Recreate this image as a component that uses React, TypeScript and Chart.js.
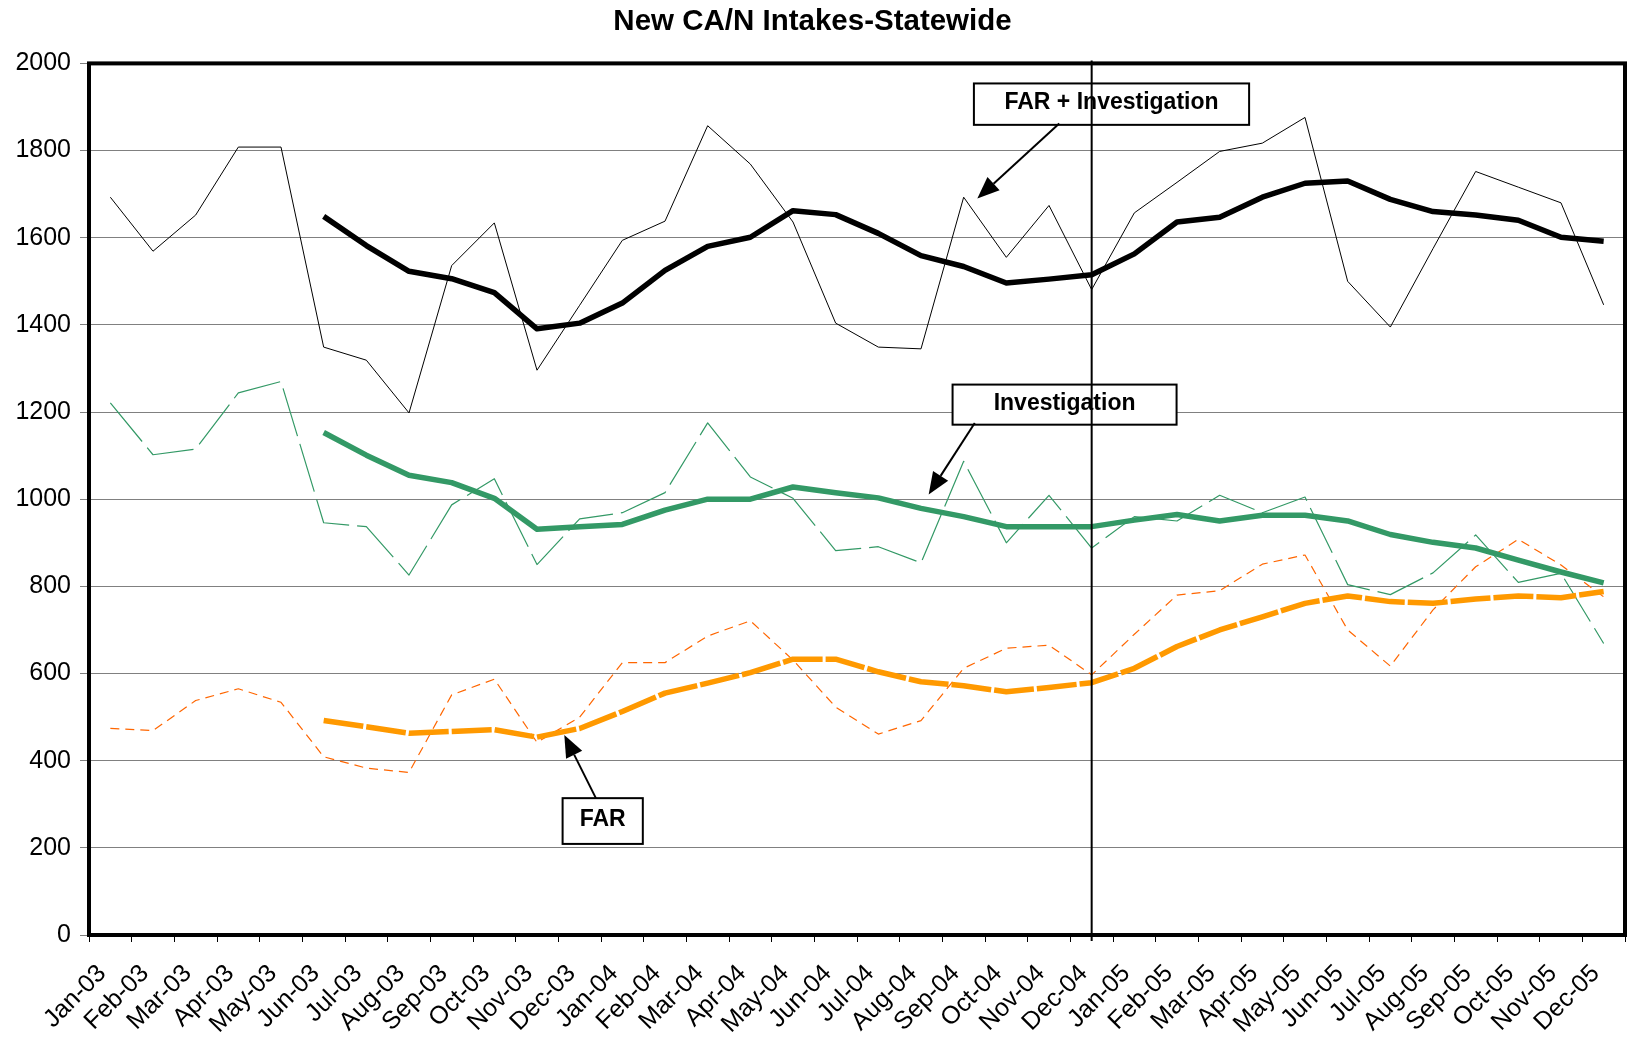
import React, { useEffect, useRef } from 'react';
import { Chart, registerables } from 'chart.js';

Chart.register(...registerables);

const months = [
  'Jan-03', 'Feb-03', 'Mar-03', 'Apr-03', 'May-03', 'Jun-03', 'Jul-03', 'Aug-03', 'Sep-03', 'Oct-03', 'Nov-03', 'Dec-03',
  'Jan-04', 'Feb-04', 'Mar-04', 'Apr-04', 'May-04', 'Jun-04', 'Jul-04', 'Aug-04', 'Sep-04', 'Oct-04', 'Nov-04', 'Dec-04',
  'Jan-05', 'Feb-05', 'Mar-05', 'Apr-05', 'May-05', 'Jun-05', 'Jul-05', 'Aug-05', 'Sep-05', 'Oct-05', 'Nov-05', 'Dec-05',
];

// Monthly totals (thin lines)
const farInvMonthly = [1693, 1569, 1652, 1808, 1808, 1349, 1319, 1198, 1536, 1634, 1296, 1445, 1594, 1638, 1857, 1769, 1636, 1404, 1349, 1345, 1693, 1555, 1674, 1481, 1657, 1727, 1798, 1817, 1876, 1500, 1395, 1575, 1752, 1716, 1680, 1446];
const invMonthly = [1221, 1102, 1115, 1244, 1270, 946, 937, 826, 987, 1047, 850, 955, 969, 1015, 1175, 1051, 1002, 882, 891, 854, 1087, 900, 1009, 888, 960, 950, 1009, 969, 1005, 804, 781, 831, 918, 809, 830, 669];
const farMonthly = [474, 469, 538, 565, 534, 409, 383, 373, 551, 587, 442, 500, 625, 625, 686, 721, 631, 523, 461, 492, 612, 658, 665, 597, 690, 780, 790, 851, 872, 700, 617, 746, 845, 908, 849, 776];

// Rolling averages (thick lines), starting Jun-03
const farInvAvg = [null, null, null, null, null, 1649, 1582, 1523, 1506, 1474, 1391, 1404, 1450, 1525, 1580, 1601, 1662, 1653, 1610, 1559, 1534, 1496, 1505, 1515, 1563, 1636, 1647, 1693, 1725, 1730, 1688, 1660, 1652, 1640, 1601, 1592];
const invAvg = [null, null, null, null, null, 1153, 1101, 1055, 1038, 1002, 931, 937, 942, 975, 1000, 1000, 1028, 1015, 1003, 979, 960, 937, 937, 937, 952, 965, 950, 963, 963, 950, 919, 901, 888, 860, 833, 808];
const farAvg = [null, null, null, null, null, 492, 478, 463, 467, 471, 454, 474, 513, 555, 578, 602, 633, 633, 604, 581, 572, 558, 568, 579, 612, 662, 700, 730, 761, 778, 765, 761, 771, 778, 774, 788];

const yTicks = { min: 0, max: 2000, step: 200 };
const dividerMonth = 'Dec-04';
const titleText = 'New CA/N Intakes-Statewide';

// Callouts, anchored in data space: box [x1, y1, x2, y2], arrow from -> to (category index, value)
const callouts = [
  { text: 'FAR + Investigation', box: [20.24, 1954, 26.69, 1859], from: [22.24, 1862], to: [20.32, 1690] },
  { text: 'Investigation', box: [19.74, 1263, 24.99, 1171], from: [20.26, 1175], to: [19.18, 1011] },
  { text: 'FAR', box: [10.6, 314, 12.48, 209], from: [11.38, 314], to: [10.64, 459] },
];

const FONT = "'Liberation Sans', Arial, Helvetica, sans-serif";

const framePlugin = {
  id: 'frameAndCallouts',
  afterDatasetsDraw(chart: any) {
    const { ctx, chartArea: a, scales } = chart;
    const xs = scales.x;
    const ys = scales.y;
    ctx.save();
    // plot frame
    ctx.strokeStyle = '#000';
    ctx.lineWidth = 4;
    ctx.strokeRect(a.left, a.top, a.right - a.left, a.bottom - a.top);

    // callouts
    for (const c of callouts) {
      const x1 = xs.getPixelForValue(c.box[0]);
      const y1 = ys.getPixelForValue(c.box[1]);
      const x2 = xs.getPixelForValue(c.box[2]);
      const y2 = ys.getPixelForValue(c.box[3]);
      ctx.fillStyle = '#fff';
      ctx.fillRect(x1, y1, x2 - x1, y2 - y1);
      ctx.strokeStyle = '#000';
      ctx.lineWidth = 2;
      ctx.strokeRect(x1, y1, x2 - x1, y2 - y1);
      ctx.fillStyle = '#000';
      ctx.font = `bold 23px ${FONT}`;
      ctx.textAlign = 'center';
      ctx.textBaseline = 'middle';
      ctx.fillText(c.text, (x1 + x2) / 2, (y1 + y2) / 2 - 1);

      const fx = xs.getPixelForValue(c.from[0]);
      const fy = ys.getPixelForValue(c.from[1]);
      const tx = xs.getPixelForValue(c.to[0]);
      const ty = ys.getPixelForValue(c.to[1]);
      const ang = Math.atan2(ty - fy, tx - fx);
      const headLen = 22;
      const headHalf = 9;
      const bx = tx - headLen * Math.cos(ang);
      const by = ty - headLen * Math.sin(ang);
      ctx.lineWidth = 2;
      ctx.beginPath();
      ctx.moveTo(fx, fy);
      ctx.lineTo(bx, by);
      ctx.stroke();
      ctx.beginPath();
      ctx.moveTo(tx, ty);
      ctx.lineTo(bx + headHalf * Math.sin(ang), by - headHalf * Math.cos(ang));
      ctx.lineTo(bx - headHalf * Math.sin(ang), by + headHalf * Math.cos(ang));
      ctx.closePath();
      ctx.fill();
    }

    // divider line
    const vx = xs.getPixelForValue(months.indexOf(dividerMonth));
    ctx.strokeStyle = '#000';
    ctx.lineWidth = 2;
    ctx.beginPath();
    ctx.moveTo(vx, a.top - 3);
    ctx.lineTo(vx, a.bottom + 6);
    ctx.stroke();
    ctx.restore();
  },
};

export default function App() {
  const ref = useRef<HTMLCanvasElement>(null);

  useEffect(() => {
    const base = { pointRadius: 0, tension: 0, fill: false, spanGaps: false, borderJoinStyle: 'round' as const };
    const chart = new Chart(ref.current!, {
      type: 'line',
      data: {
        labels: months,
        datasets: [
          { ...base, label: 'FAR + Investigation (avg)', data: farInvAvg, borderColor: '#000000', borderWidth: 5.5 },
          { ...base, label: 'Investigation (avg)', data: invAvg, borderColor: '#339966', borderWidth: 5.5 },
          { ...base, label: 'FAR (avg)', data: farAvg, borderColor: '#FF9900', borderWidth: 5.5, borderDash: [40, 3] },
          { ...base, label: 'FAR + Investigation', data: farInvMonthly, borderColor: '#000000', borderWidth: 1 },
          { ...base, label: 'Investigation', data: invMonthly, borderColor: '#339966', borderWidth: 1.2, borderDash: [50, 8] },
          { ...base, label: 'FAR', data: farMonthly, borderColor: '#FF6600', borderWidth: 1.2, borderDash: [9, 6] },
        ],
      },
      options: {
        responsive: false,
        animation: false,
        layout: { padding: { left: 0, right: 2, top: 0, bottom: 0 } },
        plugins: {
          legend: { display: false },
          tooltip: { enabled: false },
          title: {
            display: true,
            text: titleText,
            color: '#000',
            font: { family: FONT, size: 29.5, weight: 'bold' },
            padding: { top: 4, bottom: 24 },
          },
        },
        scales: {
          x: {
            offset: true,
            grid: { offset: true, drawOnChartArea: false, drawTicks: true, tickLength: 7, color: '#000', tickColor: '#000' },
            border: { display: false },
            ticks: {
              autoSkip: false,
              minRotation: 45,
              maxRotation: 45,
              color: '#000',
              font: { family: FONT, size: 25 },
              padding: 17,
              labelOffset: -8,
            },
            afterFit: (s: any) => { s.height = 105; s.paddingLeft = 0; s.paddingRight = 0; },
          },
          y: {
            min: yTicks.min,
            max: yTicks.max,
            grid: { color: '#808080', tickColor: '#808080', tickLength: 9, lineWidth: 1 },
            border: { display: false },
            ticks: {
              stepSize: yTicks.step,
              color: '#000',
              font: { family: FONT, size: 25 },
              padding: 9,
              callback: (v: any) => String(v),
            },
            afterFit: (s: any) => { s.width = 89; s.paddingTop = 0; s.paddingBottom = 0; },
          },
        },
      },
      plugins: [framePlugin],
    });
    return () => chart.destroy();
  }, []);

  return (
    <div style={{ position: 'fixed', left: 0, top: 0, width: 1627, height: 1040, background: '#fff' }}>
      <canvas ref={ref} width={1627} height={1040} style={{ display: 'block' }} />
    </div>
  );
}
